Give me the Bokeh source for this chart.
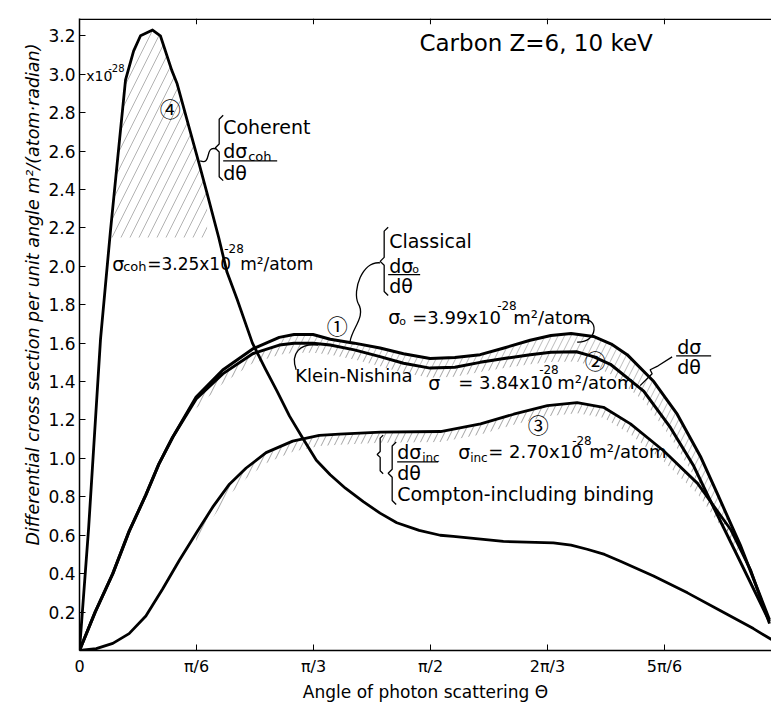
import numpy as np
from bokeh.plotting import figure
from bokeh.models import Label, FixedTicker, Span, Title
from bokeh.embed import file_html
from bokeh.resources import INLINE

PI = np.pi
# ---------------- data ----------------
theta_cl = [0, 0.07, 0.149, 0.222, 0.297, 0.355, 0.417, 0.522, 0.641, 0.775, 0.894, 0.96,
            1.045, 1.122, 1.23, 1.345, 1.45, 1.569, 1.68, 1.793, 1.90, 2.017, 2.11, 2.20,
            2.30, 2.38, 2.451, 2.57, 2.675, 2.779, 2.853, 2.957, 3.088]
y_cl = [0, 0.20, 0.40, 0.62, 0.81, 0.97, 1.11, 1.32, 1.46, 1.57, 1.63, 1.645,
        1.645, 1.62, 1.60, 1.575, 1.545, 1.52, 1.525, 1.54, 1.575, 1.615, 1.64, 1.65,
        1.635, 1.595, 1.54, 1.40, 1.23, 1.01, 0.82, 0.55, 0.16]

theta_kn = [0, 0.07, 0.149, 0.222, 0.297, 0.355, 0.417, 0.522, 0.641, 0.775, 0.894, 0.96,
            1.045, 1.122, 1.23, 1.345, 1.45, 1.569, 1.68, 1.793, 1.90, 2.017, 2.11, 2.224,
            2.30, 2.376, 2.525, 2.645, 2.749, 2.815, 2.95, 3.088]
y_kn = [0, 0.20, 0.40, 0.62, 0.81, 0.97, 1.11, 1.31, 1.44, 1.545, 1.59, 1.60,
        1.60, 1.59, 1.565, 1.53, 1.495, 1.47, 1.475, 1.50, 1.52, 1.54, 1.552, 1.555,
        1.53, 1.49, 1.35, 1.16, 0.96, 0.80, 0.48, 0.15]

theta_inc = [0, 0.075, 0.149, 0.222, 0.297, 0.372, 0.447, 0.522, 0.596, 0.671, 0.746, 0.835,
             0.954, 1.073, 1.163, 1.348, 1.616, 1.795, 1.943, 2.094, 2.227, 2.345, 2.466,
             2.614, 2.766, 2.914, 3.003, 3.088]
y_inc = [0, 0.01, 0.037, 0.088, 0.18, 0.32, 0.47, 0.61, 0.746, 0.866, 0.95, 1.03,
         1.09, 1.12, 1.126, 1.137, 1.14, 1.18, 1.23, 1.275, 1.29, 1.266, 1.18,
         1.04, 0.87, 0.63, 0.42, 0.14]

theta_coh = [0, 0.041, 0.094, 0.116, 0.139, 0.169, 0.206, 0.242, 0.273, 0.327, 0.362, 0.413,
             0.437, 0.496, 0.534, 0.571, 0.623, 0.660, 0.705, 0.774, 0.83, 0.884, 0.94,
             1.002, 1.06, 1.122, 1.19, 1.27, 1.345, 1.42, 1.52, 1.614, 1.673, 1.897, 2.121,
             2.20, 2.272, 2.35, 2.421, 2.569, 2.721, 2.869, 3.016, 3.097]
y_coh = [0, 0.64, 1.62, 1.90, 2.19, 2.54, 2.97, 3.12, 3.20, 3.23, 3.20, 3.02,
         2.95, 2.70, 2.54, 2.38, 2.15, 1.97, 1.83, 1.60, 1.47, 1.35, 1.22,
         1.10, 0.99, 0.915, 0.845, 0.775, 0.715, 0.665, 0.625, 0.60, 0.594, 0.568, 0.56,
         0.548, 0.527, 0.50, 0.465, 0.388, 0.30, 0.207, 0.114, 0.057]

x_ticks = [0, PI / 6, PI / 3, PI / 2, 2 * PI / 3, 5 * PI / 6]
x_tick_labels = ["0", "π/6", "π/3", "π/2", "2π/3", "5π/6"]
y_ticks = [0.2, 0.4, 0.6, 0.8, 1.0, 1.2, 1.4, 1.6, 1.8, 2.0, 2.2, 2.4, 2.6, 2.8, 3.0, 3.2]
y_tick_labels = ["0.2", "0.4", "0.6", "0.8", "1.0", "1.2", "1.4", "1.6", "1.8", "2.0",
                 "2.2", "2.4", "2.6", "2.8", "3.0", "3.2"]

FONT = "DejaVu Sans"
X_END, Y_END = 3.097, 3.29

p = figure(width=771, height=704, x_range=(0, X_END), y_range=(0, Y_END),
           output_backend="svg", toolbar_location=None,
           min_border_left=79, min_border_right=0, min_border_top=18, min_border_bottom=49)
p.outline_line_color = None
p.grid.visible = False
p.background_fill_color = "white"

# axes
p.xaxis.ticker = FixedTicker(ticks=x_ticks)
p.xaxis.major_label_overrides = {t: l for t, l in zip(x_ticks, x_tick_labels)}
p.yaxis.ticker = FixedTicker(ticks=y_ticks)
p.yaxis.major_label_overrides = {t: l for t, l in zip(y_ticks, y_tick_labels)}
for ax in (p.xaxis[0], p.yaxis[0]):
    ax.axis_line_color = "black"
    ax.axis_line_width = 1.5
    ax.major_tick_in = 6
    ax.major_tick_out = 0
    ax.minor_tick_line_color = None
    ax.major_label_text_font = FONT
    ax.major_label_text_color = "black"
    ax.axis_label_text_font = FONT
    ax.axis_label_text_color = "black"
    ax.axis_label_text_font_style = "normal"
p.xaxis.major_label_text_font_size = "16px"
p.yaxis.major_label_text_font_size = "17px"
p.xaxis.major_label_standoff = 6
p.yaxis.major_label_standoff = 4
p.xaxis.axis_label = "Angle of photon scattering Θ"
p.xaxis.axis_label_text_font_size = "17px"
p.xaxis.axis_label_standoff = 3

# y-axis caption as a side title (lets it sit a little above centre, as in the original)
p.add_layout(Title(text="Differential cross section per unit angle  m²/(atom·radian)",
                   align="left", offset=105, text_font=FONT, text_font_size="17.5px",
                   text_font_style="italic", text_color="black", standoff=6), "left")

# top frame line with inward ticks
p.add_layout(Span(location=Y_END - 0.004, dimension="width", line_color="black", line_width=1.5))
p.segment(x0=x_ticks[1:], y0=[Y_END - 0.03] * 5, x1=x_ticks[1:], y1=[Y_END] * 5,
          line_color="black", line_width=1)

# hatching (bands under the curves)
tc, yc = np.array(theta_cl), np.array(y_cl)
tk, yk = np.array(theta_kn), np.array(y_kn)
ti, yi = np.array(theta_inc), np.array(y_inc)
th, yh = np.array(theta_coh), np.array(y_coh)
hatch = dict(fill_color=None, fill_alpha=0, hatch_pattern="/", hatch_color="black",
             hatch_weight=0.6, hatch_scale=13, hatch_alpha=0.6)
m = (tk > 0.45) & (tk < 2.95)
p.varea(x=tk[m], y1=yk[m] - 0.05, y2=yk[m], **hatch)
yk_on_cl = np.interp(tc, tk, yk)
m = (tc > 0.8) & (tc < 3.0)
p.varea(x=tc[m], y1=yk_on_cl[m], y2=yc[m], **dict(hatch, hatch_alpha=0.45))
m = (ti > 0.5) & (ti < 2.97)
p.varea(x=ti[m], y1=yi[m] - 0.055, y2=yi[m], **hatch)
m = yh > 2.15
p.varea(x=th[m], y1=np.full(m.sum(), 2.15), y2=yh[m],
        **dict(hatch, hatch_scale=18, hatch_alpha=0.5))

# curves
p.line(theta_cl, y_cl, line_color="black", line_width=3, line_join="round")
p.line(theta_kn, y_kn, line_color="black", line_width=3, line_join="round")
p.line(theta_inc, y_inc, line_color="black", line_width=2.8, line_join="round")
p.line(theta_coh, y_coh, line_color="black", line_width=2.8, line_join="round")


# ---------------- annotations (positions in page pixels -> data) ----------------
def X(px):
    return (px - 79.3) * 0.004475


def Y(py):
    return (655.5 - py) / 194.0


def lab(px, py, text, size=17, align="left", style="normal", font=FONT):
    p.add_layout(Label(x=X(px), y=Y(py), text=text, text_font=font, text_font_size=f"{size}px",
                       text_align=align, text_baseline="middle", text_color="black",
                       text_font_style=style))


def brace(px, top, bot, w=4):
    mid = (top + bot) / 2
    xs = [px + w, px, px, px - w, px, px, px + w]
    ys = [top, top + w, mid - w, mid, mid + w, bot - w, bot]
    p.line([X(v) for v in xs], [Y(v) for v in ys], line_color="black", line_width=1.3)


def bar(px0, px1, py):
    p.line([X(px0), X(px1)], [Y(py), Y(py)], line_color="black", line_width=1.3)


def bez(a, b, c0, c1):
    p.bezier(x0=[X(a[0])], y0=[Y(a[1])], x1=[X(b[0])], y1=[Y(b[1])],
             cx0=[X(c0[0])], cy0=[Y(c0[1])], cx1=[X(c1[0])], cy1=[Y(c1[1])],
             line_color="black", line_width=1.3)


# title and scale note
lab(660, 41.5, "Carbon Z=6,  10 keV", size=23, align="right")
lab(86, 75, "x10", size=14)
lab(108, 67, "-28", size=10)

# circled numbers
CJK = "Noto Sans CJK JP"
lab(170, 108, "④", size=21, align="center", font=CJK)
lab(337, 327, "①", size=21, align="center", font=CJK)
lab(595, 362, "②", size=21, align="center", font=CJK)
lab(538, 427, "③", size=21, align="center", font=CJK)

# coherent
brace(219, 115, 181)
lab(223, 127, "Coherent", size=19)
lab(223, 151, "dσ", size=19)
lab(248, 157, "coh", size=13)
bar(223, 277, 161)
lab(223, 173, "dθ", size=19)
bez((200, 161), (216, 149), (212, 166), (204, 145))
lab(112, 265, "σ", size=19)
lab(123, 268, "coh", size=13)
lab(147, 265, "=3.25x10", size=17)
lab(224, 250, "-28", size=12)
lab(240, 265, "m²/atom", size=17)

# classical
brace(384, 228, 297)
lab(389, 242, "Classical", size=19)
lab(389, 267, "dσ", size=19)
lab(412, 271, "o", size=11)
bar(388, 420, 276)
lab(389, 287, "dθ", size=19)
bez((380, 264), (358, 305), (362, 262), (352, 292))
bez((358, 305), (350, 343), (366, 318), (352, 330))
lab(388, 319, "σ", size=19)
lab(399, 323, "o", size=11)
lab(412, 319, "=3.99x10", size=18)
lab(497, 307, "-28", size=12)
lab(513, 319, "m²/atom", size=18)
bez((580, 321), (577, 344), (600, 318), (598, 345))

# Klein-Nishina
lab(295, 378, "Klein-Nishina", size=18)
bez((296, 372), (318, 347), (290, 355), (300, 345))
lab(428, 385, "σ", size=19)
lab(458, 385, "= 3.84x10", size=18)
lab(539, 372, "-28", size=12)
lab(557, 385, "m²/atom", size=18)

# dσ/dθ at right
lab(677, 349, "dσ", size=19)
bar(676, 711, 358)
lab(677, 369, "dθ", size=19)
p.line([X(v) for v in (640, 652, 650, 658, 672)], [Y(v) for v in (388, 376, 372, 368, 359)],
       line_color="black", line_width=1.3)

# Compton
brace(380, 438, 477, w=3)
brace(392, 445, 508)
lab(397, 455, "dσ", size=19)
lab(422, 461, "inc", size=12)
bar(397, 438, 465)
lab(397, 476, "dθ", size=19)
lab(458, 455, "σ", size=19)
lab(470, 461, "inc", size=12)
lab(488, 455, "= 2.70x10", size=18)
lab(572, 443, "-28", size=12)
lab(589, 455, "m²/atom", size=18)
lab(397, 497, "Compton-including binding", size=19)

open("out.html", "w").write(file_html(p, INLINE))
